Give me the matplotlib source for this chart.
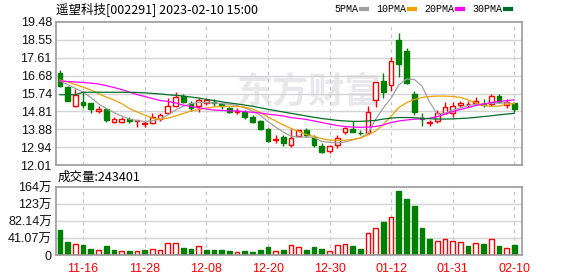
"""
遥望科技 日K线 + 成交量（近60个交易日），仿东方财富的小图样式
"""
import matplotlib

matplotlib.use("Agg")
import matplotlib.pyplot as plt
from matplotlib.lines import Line2D

plt.rcParams["font.family"] = ["Liberation Sans", "Noto Sans CJK SC"]

RED = "#ff0000"
GREEN = "#008000"
GRID = "#d4d4d4"
FRAME = "#9a9a9a"
MA_COLORS = ["#a0a0a0", "#f0a000", "#ff00ff", "#006e2a"]

TITLE = "遥望科技[002291] 2023-02-10 15:00"
VOL_TITLE = "成交量:243401"
WATERMARK = "东方财富"
MA_NAMES = ["5PMA", "10PMA", "20PMA", "30PMA"]

dates = [
    "11-11", "11-14", "11-15", "11-16", "11-17", "11-18", "11-21", "11-22", "11-23", "11-24",
    "11-25", "11-28", "11-29", "11-30", "12-01", "12-02", "12-05", "12-06", "12-07", "12-08",
    "12-09", "12-12", "12-13", "12-14", "12-15", "12-16", "12-19", "12-20", "12-21", "12-22",
    "12-23", "12-26", "12-27", "12-28", "12-29", "12-30", "01-03", "01-04", "01-05", "01-06",
    "01-09", "01-10", "01-11", "01-12", "01-13", "01-16", "01-17", "01-18", "01-19", "01-20",
    "01-30", "01-31", "02-01", "02-02", "02-03", "02-06", "02-07", "02-08", "02-09", "02-10",
]

opens = [
    16.80, 16.10, 15.11, 15.30, 15.23, 14.82, 14.94, 14.27, 14.27, 14.40,
    14.32, 14.17, 14.19, 14.41, 14.71, 15.11, 15.61, 15.26, 15.09, 15.26,
    15.32, 15.19, 14.97, 14.78, 14.76, 14.50, 14.31, 13.89, 13.33, 13.49,
    13.05, 13.52, 13.84, 13.49, 13.02, 12.73, 13.05, 13.72, 13.87, 13.70,
    13.67, 15.41, 16.40, 16.19, 18.54, 17.97, 15.72, 14.47, 14.22, 14.32,
    14.74, 14.71, 15.16, 15.18, 15.23, 15.18, 15.22, 15.63, 15.14, 15.26,
]
highs = [
    16.97, 16.15, 15.96, 15.85, 15.25, 15.09, 14.97, 14.50, 14.50, 14.53,
    14.36, 14.31, 14.71, 14.74, 15.49, 15.81, 15.70, 15.37, 15.49, 15.49,
    15.47, 15.27, 15.06, 15.00, 14.88, 14.62, 14.36, 13.93, 13.59, 13.58,
    13.89, 13.86, 13.93, 13.58, 13.14, 13.05, 13.58, 14.01, 14.31, 13.84,
    15.09, 16.35, 16.83, 17.67, 18.92, 18.11, 15.88, 14.71, 14.36, 14.90,
    15.28, 15.32, 15.37, 15.34, 15.55, 15.44, 15.70, 15.70, 15.44, 15.26,
]
lows = [
    16.10, 15.35, 15.06, 15.00, 14.74, 14.71, 14.27, 14.22, 14.22, 14.19,
    14.01, 13.98, 14.14, 14.32, 14.66, 15.06, 15.26, 14.83, 14.79, 15.14,
    15.11, 14.94, 14.71, 14.67, 14.41, 14.22, 13.84, 13.20, 13.17, 13.00,
    12.93, 13.50, 13.49, 12.93, 12.62, 12.65, 12.88, 13.63, 13.72, 13.58,
    13.63, 15.02, 15.49, 15.89, 16.62, 16.25, 14.62, 14.07, 14.07, 14.22,
    14.67, 14.50, 15.06, 15.06, 15.14, 15.06, 15.11, 15.27, 14.97, 14.79,
]
closes = [
    16.15, 15.37, 15.68, 15.14, 14.92, 14.95, 14.36, 14.40, 14.43, 14.30,
    14.34, 14.20, 14.50, 14.62, 15.11, 15.58, 15.32, 15.00, 15.39, 15.41,
    15.26, 15.11, 14.76, 14.83, 14.53, 14.27, 13.89, 13.28, 13.38, 13.14,
    13.44, 13.84, 13.58, 13.05, 12.70, 13.02, 13.44, 13.93, 13.75, 13.68,
    14.79, 16.33, 15.84, 17.44, 17.27, 16.30, 14.79, 14.42, 14.27, 14.71,
    15.02, 15.09, 15.23, 15.20, 15.37, 15.14, 15.61, 15.32, 15.32, 14.92,
]

ma5 = [
    16.40, 16.21, 16.01, 15.82, 15.54, 15.20, 14.96, 14.75, 14.57, 14.41,
    14.33, 14.28, 14.33, 14.41, 14.62, 14.88, 15.07, 15.22, 15.27, 15.27,
    15.25, 15.22, 15.18, 15.12, 14.99, 14.83, 14.62, 14.28, 13.99, 13.73,
    13.51, 13.46, 13.47, 13.45, 13.24, 13.19, 13.16, 13.21, 13.32, 13.42,
    13.67, 14.41, 14.99, 15.51, 16.19, 16.50, 16.48, 16.14, 15.30, 14.67,
    14.71, 14.88, 14.99, 15.12, 15.17, 15.20, 15.22, 15.25, 15.25, 15.22,
]
ma10 = [
    16.45, 16.35, 16.21, 16.08, 15.93, 15.74, 15.56, 15.41, 15.22, 14.96,
    14.78, 14.62, 14.46, 14.39, 14.46, 14.57, 14.70, 14.83, 14.91, 14.99,
    15.04, 15.07, 15.07, 15.07, 15.04, 14.94, 14.75, 14.52, 14.31, 14.10,
    13.92, 13.76, 13.60, 13.50, 13.39, 13.31, 13.30, 13.30, 13.34, 13.42,
    13.58, 13.79, 14.13, 14.57, 15.01, 15.27, 15.43, 15.54, 15.59, 15.61,
    15.61, 15.59, 15.54, 15.41, 15.25, 15.12, 15.07, 15.09, 15.17, 15.22,
]
ma20 = [
    16.40, 16.37, 16.35, 16.32, 16.29, 16.24, 16.16, 16.06, 15.95, 15.82,
    15.69, 15.59, 15.48, 15.38, 15.33, 15.25, 15.14, 15.07, 14.99, 14.94,
    14.88, 14.86, 14.84, 14.83, 14.80, 14.76, 14.73, 14.67, 14.62, 14.57,
    14.49, 14.44, 14.39, 14.31, 14.23, 14.15, 14.07, 14.02, 13.99, 13.98,
    13.99, 14.02, 14.10, 14.23, 14.31, 14.36, 14.40, 14.42, 14.45, 14.54,
    14.67, 14.80, 14.91, 15.01, 15.12, 15.20, 15.27, 15.33, 15.37, 15.41,
]
ma30 = [
    15.68, 15.68, 15.68, 15.81, 15.81, 15.81, 15.81, 15.81, 15.81, 15.81,
    15.80, 15.78, 15.75, 15.72, 15.68, 15.65, 15.61, 15.56, 15.51, 15.44,
    15.38, 15.31, 15.25, 15.20, 15.14, 15.08, 15.00, 14.92, 14.85, 14.78,
    14.71, 14.64, 14.57, 14.50, 14.44, 14.39, 14.34, 14.31, 14.29, 14.29,
    14.31, 14.34, 14.41, 14.46, 14.49, 14.49, 14.48, 14.45, 14.43, 14.41,
    14.41, 14.42, 14.44, 14.46, 14.50, 14.54, 14.58, 14.63, 14.67, 14.71,
]

# 成交量，单位：万（手）
volumes = [
    60.4, 31.4, 25.8, 24.2, 14.5, 11.3, 21.7, 12.1, 8.9, 9.7,
    8.9, 12.1, 13.7, 12.1, 28.2, 28.2, 16.9, 14.5, 21.0, 12.1,
    12.1, 12.1, 9.7, 6.5, 9.7, 7.2, 12.1, 19.3, 9.7, 12.1,
    23.4, 18.5, 12.1, 19.3, 14.5, 8.9, 23.4, 26.6, 21.7, 14.5,
    52.4, 64.4, 79.7, 91.0, 154.6, 135.3, 118.4, 65.2, 38.7, 33.8,
    37.9, 33.8, 31.4, 21.7, 28.2, 26.6, 37.9, 21.7, 16.1, 24.34,
]
vol_up = [
    0, 0, 1, 0, 0, 1, 0, 0, 1, 0,
    1, 0, 1, 1, 1, 1, 0, 0, 1, 0,
    0, 0, 0, 1, 0, 0, 0, 0, 1, 0,
    1, 1, 0, 0, 0, 1, 1, 1, 0, 0,
    1, 1, 0, 1, 0, 0, 0, 0, 0, 1,
    1, 1, 1, 0, 1, 0, 1, 0, 1, 0,
]

price_ticks = [12.01, 12.94, 13.88, 14.81, 15.74, 16.68, 17.61, 18.55, 19.48]
price_labels = ["12.01", "12.94", "13.88", "14.81", "15.74", "16.68", "17.61", "18.55", "19.48"]
vol_ticks = [0, 41.07, 82.14, 123.21, 164.28]
vol_labels = ["0", "41.07万", "82.14万", "123万", "164万"]
date_ticks = ["11-16", "11-28", "12-08", "12-20", "12-30", "01-12", "01-31", "02-10"]


def estilo_ejes(ax):
    for lado in ax.spines.values():
        lado.set_color(FRAME)
        lado.set_linewidth(1.2)
    ax.tick_params(length=0, labelsize=9, colors="#111111", pad=3)
    ax.set_xlim(-0.52, 60.0)
    for d in date_ticks:
        ax.axvline(dates.index(d), color="#c8c8c8", lw=0.9, ls=(0, (3, 3)), zorder=1)


fig = plt.figure(figsize=(5.78, 2.76), dpi=100)
fig.patch.set_facecolor("white")

ax = fig.add_axes([56 / 578, 1 - 165 / 276, 466 / 578, 143 / 276])
axv = fig.add_axes([56 / 578, 1 - 255 / 276, 466 / 578, 68 / 276])

# ---------------- K线 ----------------
estilo_ejes(ax)
ax.set_ylim(price_ticks[0], price_ticks[-1])
ax.set_yticks(price_ticks)
ax.set_yticklabels(price_labels)
ax.set_xticks([])
for t in price_ticks[1:-1]:
    ax.axhline(t, color=GRID, lw=1, zorder=1)

ax.text(0.388, 0.51, WATERMARK, transform=ax.transAxes, fontsize=26,
        fontweight="bold", color="#e8e8ec", family=["Noto Sans CJK SC"],
        va="center", ha="left", zorder=0.5)

for i, (o, h, l, c) in enumerate(zip(opens, highs, lows, closes)):
    sube = c >= o
    color = RED if sube else GREEN
    ax.vlines(i, l, h, color=color, lw=1, zorder=2)
    alto = max(abs(c - o), 0.012)
    ax.bar(i, alto, bottom=min(o, c), width=0.62,
           facecolor="white" if sube else GREEN, edgecolor=color,
           linewidth=1, zorder=2.5)

xs = list(range(len(dates)))
for serie, color in zip([ma5, ma10, ma20, ma30], MA_COLORS):
    ax.plot(xs, serie, color=color, lw=0.9, zorder=3)

# ---------------- 成交量 ----------------
estilo_ejes(axv)
axv.set_ylim(0, vol_ticks[-1])
axv.set_yticks(vol_ticks)
axv.set_yticklabels(vol_labels)
for t in vol_ticks[1:-1]:
    axv.axhline(t, color=GRID, lw=1, zorder=1)

for i, (v, up) in enumerate(zip(volumes, vol_up)):
    color = RED if up else GREEN
    axv.bar(i, v, width=0.62, facecolor="white" if up else GREEN,
            edgecolor=color, linewidth=1, zorder=2)

axv.set_xticks([dates.index(d) for d in date_ticks])
axv.set_xticklabels(date_ticks, color=RED)
axv.tick_params(axis="x", pad=6)

# ---------------- 标题与图例 ----------------
fig.text(56 / 578, 1 - 9 / 276, TITLE, fontsize=9, va="center", ha="left",
         family=["Noto Sans CJK SC"])
fig.text(58 / 578, 1 - 177 / 276, VOL_TITLE, fontsize=9, va="center", ha="left",
         family=["Noto Sans CJK SC"])

manijas = [Line2D([0], [0], color=c, lw=3) for c in MA_COLORS]
fig.legend(manijas, MA_NAMES, loc="center right", bbox_to_anchor=(511 / 578, 1 - 9 / 276),
           ncol=4, markerfirst=False, frameon=False, borderpad=0, borderaxespad=0,
           handlelength=0.6, handletextpad=0.3, columnspacing=0.9,
           prop={"family": "Liberation Mono", "size": 7.2})

fig.savefig("out.png", dpi=100)
plt.close(fig)
